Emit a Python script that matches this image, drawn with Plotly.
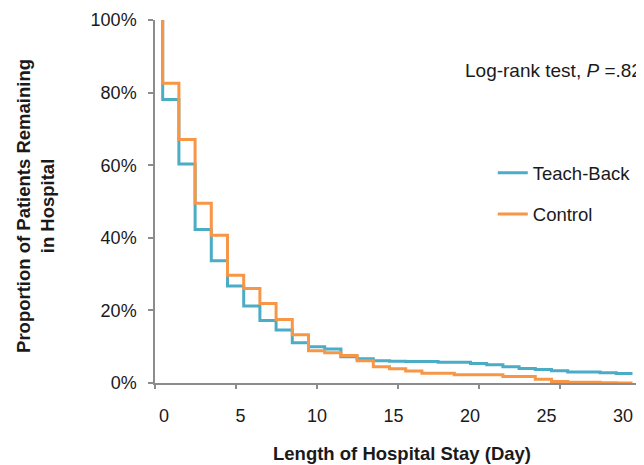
import plotly.graph_objects as go

# ---- data ----
days = list(range(30))  # day of each discharge step
teach_back = [78.1, 60.3, 42.3, 33.7, 26.7, 21.2, 17.2, 14.6, 11.1, 10.0,
              9.4, 7.2, 6.7, 6.1, 6.0, 5.9, 5.9, 5.7, 5.7, 5.4,
              5.0, 4.5, 4.0, 3.7, 3.4, 3.0, 3.0, 2.8, 2.6, 2.6]
control = [82.6, 67.1, 49.5, 40.7, 29.7, 26.0, 21.9, 17.5, 13.3, 8.9,
           8.3, 7.6, 6.1, 4.5, 3.9, 3.3, 2.7, 2.7, 2.3, 2.3,
           2.3, 1.8, 1.8, 1.0, 0.4, 0.2, 0.2, 0.1, 0.0, 0.0]
start_value = 100.0
series_names = ["Teach-Back", "Control"]
x_tick_labels = [0, 5, 10, 15, 20, 25, 30]
y_tick_values = [0, 20, 40, 60, 80, 100]

BLUE = "#4BACC6"
ORANGE = "#F79646"
AXIS = "#8c8c8c"
TEXT = "#1a1a1a"
FONT = "Liberation Sans, Arial, sans-serif"

fig = go.Figure()
for name, vals, col in [(series_names[0], teach_back, BLUE),
                        (series_names[1], control, ORANGE)]:
    fig.add_trace(go.Scatter(
        x=[days[0]] + days, y=[start_value] + vals,
        mode="lines", line=dict(shape="hv", color=col, width=3),
        name=name, legendgroup=name, cliponaxis=False,
        xaxis="x", yaxis="y"))

# empty helper traces so overlay axes are drawn
fig.add_trace(go.Scatter(x=[], y=[], xaxis="x2", yaxis="y", showlegend=False, hoverinfo="skip"))
fig.add_trace(go.Scatter(x=[], y=[], xaxis="x3", yaxis="y", showlegend=False, hoverinfo="skip"))

# page body has an 8px margin, so the figure is 8px smaller than the window
fig.update_layout(
    width=636, height=457,
    margin=dict(l=147, r=3, t=12, b=82),
    plot_bgcolor="white", paper_bgcolor="white",
    font=dict(family=FONT, size=18, color=TEXT),
    showlegend=True,
    legend=dict(x=0.695, y=0.63, xanchor="left", yanchor="top",
                bgcolor="rgba(0,0,0,0)", traceorder="grouped",
                tracegroupgap=14, font=dict(size=18.5, color=TEXT)),
    xaxis=dict(range=[-0.475, 29.525], showline=True, linecolor=AXIS, linewidth=1.5,
               ticks="", showticklabels=False, showgrid=False, zeroline=False),
    xaxis2=dict(overlaying="x", anchor="y", side="bottom", range=[0, 30], dtick=5,
                ticks="outside", ticklen=5, tickwidth=1.5, tickcolor=AXIS,
                showticklabels=False, showline=False, showgrid=False, zeroline=False),
    xaxis3=dict(overlaying="x", anchor="y", side="bottom", range=[-0.588, 31.18],
                tickmode="array", tickvals=x_tick_labels,
                ticktext=[str(v) for v in x_tick_labels],
                ticks="", showline=False, showgrid=False, zeroline=False,
                ticklabelstandoff=20, tickfont=dict(size=18, color=TEXT)),
    yaxis=dict(range=[0, 100], tickmode="array", tickvals=y_tick_values,
               ticktext=[f"{v}%" for v in y_tick_values],
               ticks="outside", ticklen=5, tickwidth=1.5, tickcolor=AXIS,
               showline=True, linecolor=AXIS, linewidth=1.5,
               showgrid=False, zeroline=False, ticklabelstandoff=8,
               tickfont=dict(size=18, color=TEXT)),
    annotations=[
        dict(text="<b>Length of Hospital Stay (Day)</b>", xref="paper", yref="paper",
             x=0.5076, y=-0.193, xanchor="center", yanchor="middle", showarrow=False,
             font=dict(size=18.5, color=TEXT)),
        dict(text="<b>Proportion of Patients Remaining<br>in Hospital</b>",
             xref="paper", yref="paper", x=-0.247, y=0.4876, textangle=-90,
             xanchor="center", yanchor="middle", showarrow=False,
             font=dict(size=18.5, color=TEXT)),
        dict(text="Log-rank test, <i>P</i> =.82", xref="paper", yref="paper",
             x=1.006, y=0.862, xanchor="right", yanchor="middle", showarrow=False,
             font=dict(size=19, color=TEXT)),
    ],
)

fig.write_html("out.html")
